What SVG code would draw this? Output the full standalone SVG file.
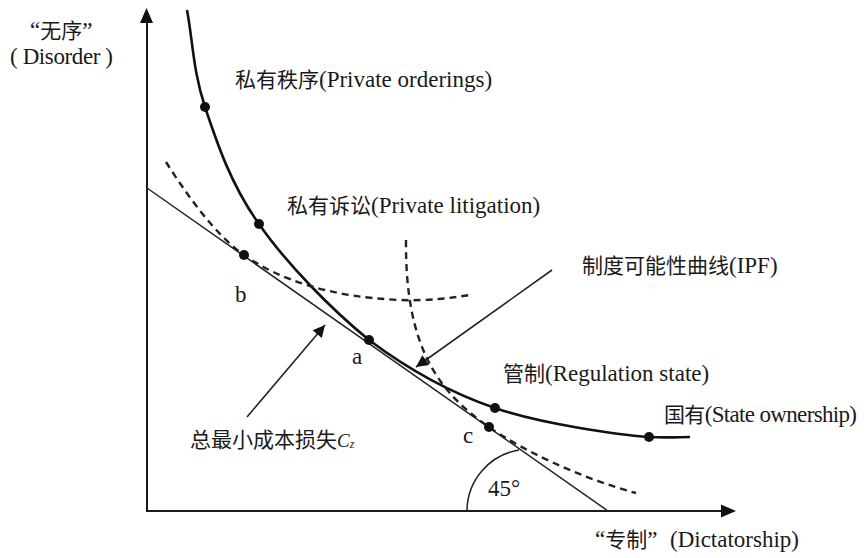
<svg xmlns="http://www.w3.org/2000/svg" width="866" height="558" viewBox="0 0 866 558">
<style>
.t{font-family:"Liberation Serif","Times New Roman","Noto Sans CJK SC",serif;font-size:23px;fill:#1a1a1a}
.c{font-family:"Noto Sans CJK SC","Liberation Serif",serif;font-size:21px}
.ax{stroke:#1a1a1a;stroke-width:2;fill:none}
.ipf{stroke:#111;stroke-width:2.6;fill:none}
.tan{stroke:#222;stroke-width:1.5;fill:none}
.dash{stroke:#222;stroke-width:2.4;fill:none;stroke-dasharray:7 5}
.dot{fill:#111}
.arr{stroke:#222;stroke-width:1.6;fill:none}
</style>
<defs>
<marker id="ah2" viewBox="0 0 10 10" refX="10" refY="5" markerWidth="17" markerHeight="12" markerUnits="userSpaceOnUse" orient="auto">
<path d="M0,0 L10,5 L0,10 Z" fill="#111"/>
</marker>
</defs>
<rect width="866" height="558" fill="#fff"/>
<g id="axes">
<line class="ax" x1="147" y1="511" x2="147" y2="22"/>
<path d="M140,23 L146.5,8 L153,23 Z" fill="#111"/>
<line class="ax" x1="146" y1="511" x2="722" y2="511"/>
<path d="M721,504.5 L736,511 L721,517.5 Z" fill="#111"/>
</g>
<g id="connectors">
<path id="ipf-curve" class="ipf" d="M187,10 C193,42 193,71 205,107 C217,143 231,185 259,224 C286,263 331,309 369,340 C409,370 448,392 495,408 C541,424 620,435 649,437 C665,438 680,437 690,437"/>
<line id="tangent-line" class="tan" x1="147" y1="188" x2="608" y2="511"/>
<path id="dash-b" class="dash" d="M166,162 C185,192 215,235 244,255 C280,280 330,297 400,300 C430,301 450,298 470,295"/>
<path id="dash-c" class="dash" d="M406,240 C405,350 440,393 489,427 C520,449 580,478 636,493"/>
<path id="angle-arc" class="tan" d="M467,511 A62,62 0 0 1 519,450"/>
<line id="arrow-ipf" class="arr" x1="552" y1="270" x2="416" y2="367" marker-end="url(#ah2)"/>
<line id="arrow-cz" class="arr" x1="247" y1="417" x2="325" y2="325" marker-end="url(#ah2)"/>
</g>
<g id="points">
<circle class="dot" cx="205" cy="107" r="5"/>
<circle class="dot" cx="259" cy="224" r="5"/>
<circle class="dot" cx="244" cy="255" r="5"/>
<circle class="dot" cx="369" cy="340" r="5"/>
<circle class="dot" cx="495" cy="408" r="5"/>
<circle class="dot" cx="489" cy="427" r="5"/>
<circle class="dot" cx="649" cy="437" r="5"/>
</g>
<g id="label-disorder">
<text class="t" x="30" y="38" font-size="21">“<tspan class="c" font-size="20">无序</tspan>”</text>
<text class="t" x="10" y="64" font-size="21" textLength="103">( Disorder )</text>
</g>
<g id="node-private-orderings"><text class="t" x="235" y="87"><tspan class="c">私有秩序</tspan>(Private orderings)</text></g>
<g id="node-private-litigation"><text class="t" x="287" y="213"><tspan class="c">私有诉讼</tspan>(Private litigation)</text></g>
<g id="label-ipf"><text class="t" x="582" y="273"><tspan class="c" font-size="22">制度可能性曲线</tspan>(IPF)</text></g>
<g id="node-regulation"><text class="t" x="503" y="381"><tspan class="c">管制</tspan>(Regulation state)</text></g>
<g id="node-state"><text class="t" x="664" y="422" font-size="21" textLength="193"><tspan class="c">国有</tspan>(State ownership)</text></g>
<g id="label-b"><text class="t" x="235" y="302" font-size="22">b</text></g>
<g id="label-a"><text class="t" x="352" y="364" font-size="22">a</text></g>
<g id="label-c"><text class="t" x="463" y="443" font-size="22">c</text></g>
<g id="label-cz"><text class="t" x="190" y="447"><tspan class="c" font-size="18">总最小成本损失</tspan><tspan font-style="italic" font-size="19">C</tspan><tspan font-style="italic" font-size="12" dy="1">z</tspan></text></g>
<g id="label-45"><text class="t" x="488" y="496" font-size="21">45°</text></g>
<g id="label-dictatorship"><text class="t" x="595" y="547">“<tspan class="c">专制</tspan>”<tspan x="670">(Dictatorship)</tspan></text></g>
</svg>
